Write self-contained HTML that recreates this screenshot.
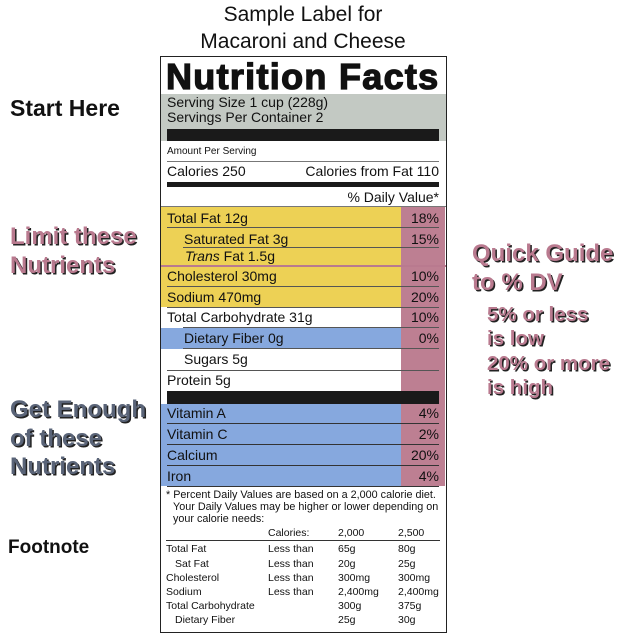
<!DOCTYPE html>
<html><head><style>
body{margin:0;width:619px;height:635px;background:#fff;position:relative;overflow:hidden;font-family:"Liberation Sans",sans-serif;color:#111}
div{position:absolute;box-sizing:border-box}
.t{white-space:nowrap;line-height:1}
.side{font-weight:bold;font-size:24px;text-shadow:1.5px 1.5px 0 #222}
.pk{color:#b97a8f}
.gb{color:#5a6478}
.r{font-size:14px}
.f{font-size:10.5px}
</style></head><body>
<div class="t" style="left:0;width:606px;text-align:center;top:4px;font-size:21px">Sample Label for</div>
<div class="t" style="left:0;width:606px;text-align:center;top:31px;font-size:21px">Macaroni and Cheese</div>

<div class="t" style="left:10px;top:97px;font-size:23px;font-weight:bold">Start Here</div>
<div class="t side pk" style="left:10px;top:225px">Limit these</div>
<div class="t side pk" style="left:10px;top:254px">Nutrients</div>
<div class="t side gb" style="left:10px;top:398px">Get Enough</div>
<div class="t side gb" style="left:10px;top:427px">of these</div>
<div class="t side gb" style="left:10px;top:455px">Nutrients</div>
<div class="t side pk" style="left:472px;top:242px">Quick Guide</div>
<div class="t side pk" style="left:472px;top:271px">to % DV</div>
<div class="t side pk" style="left:487px;top:305px;font-size:20.5px">5% or less</div>
<div class="t side pk" style="left:487px;top:329px;font-size:20.5px">is low</div>
<div class="t side pk" style="left:487px;top:354px;font-size:20.5px">20% or more</div>
<div class="t side pk" style="left:487px;top:378px;font-size:20.5px">is high</div>
<div class="t" style="left:8px;top:538px;font-size:19px;font-weight:bold">Footnote</div>

<!-- label -->
<div style="left:160px;top:56px;width:287px;height:577px;border:1.5px solid #222"></div>
<div class="t" style="left:166px;top:59px;font-size:36px;font-weight:bold;-webkit-text-stroke:1.3px #111;letter-spacing:1.3px">Nutrition Facts</div>
<div style="left:161px;top:94px;width:285px;height:47px;background:#c3c9c3"></div>
<div class="t r" style="left:167px;top:95px">Serving Size 1 cup (228g)</div>
<div class="t r" style="left:167px;top:110px">Servings Per Container 2</div>
<div style="left:167px;top:129px;width:272px;height:12px;background:#1a1a1a"></div>
<div class="t" style="left:167px;top:147px;font-size:10px">Amount Per Serving</div>
<div style="left:167px;top:161px;width:272px;height:1px;background:#777"></div>
<div class="t r" style="left:167px;top:164px">Calories 250</div>
<div class="t r" style="left:167px;top:164px;width:272px;text-align:right">Calories from Fat 110</div>
<div style="left:167px;top:182px;width:272px;height:5px;background:#1a1a1a"></div>
<div class="t r" style="left:167px;top:190px;width:272px;text-align:right">% Daily Value*</div>
<div style="left:161px;top:206px;width:285px;height:1px;background:#777"></div>

<div style="left:161px;top:207px;width:240px;height:100px;background:#edd155"></div>
<div style="left:161px;top:328px;width:240px;height:21px;background:#86a8de"></div>
<div style="left:161px;top:404px;width:240px;height:82px;background:#86a8de"></div>
<div style="left:401px;top:207px;width:44px;height:279px;background:#bd7f92"></div>
<div style="left:167px;top:391px;width:272px;height:13px;background:#1a1a1a"></div>

<div style="left:167px;top:227px;width:272px;height:1px;background:#555"></div>
<div style="left:183px;top:247px;width:256px;height:1px;background:#555"></div>
<div style="left:161px;top:265px;width:285px;height:2px;background:#b97a8f"></div>
<div style="left:167px;top:286px;width:272px;height:1px;background:#555"></div>
<div style="left:167px;top:307px;width:272px;height:1px;background:#555"></div>
<div style="left:183px;top:327px;width:256px;height:1px;background:#555"></div>
<div style="left:183px;top:348px;width:256px;height:1px;background:#555"></div>
<div style="left:167px;top:370px;width:272px;height:1px;background:#555"></div>
<div style="left:167px;top:423px;width:272px;height:1px;background:#333"></div>
<div style="left:167px;top:444px;width:272px;height:1px;background:#333"></div>
<div style="left:167px;top:465px;width:272px;height:1px;background:#333"></div>
<div style="left:167px;top:486px;width:272px;height:1px;background:#333"></div>

<div class="t r" style="left:167px;top:211px">Total Fat 12g</div><div class="t r" style="left:380px;width:59px;text-align:right;top:211px">18%</div>
<div class="t r" style="left:184px;top:232px">Saturated Fat 3g</div><div class="t r" style="left:380px;width:59px;text-align:right;top:232px">15%</div>
<div class="t r" style="left:185px;top:249px"><i>Trans</i> Fat 1.5g</div>
<div class="t r" style="left:167px;top:269px">Cholesterol 30mg</div><div class="t r" style="left:380px;width:59px;text-align:right;top:269px">10%</div>
<div class="t r" style="left:167px;top:290px">Sodium 470mg</div><div class="t r" style="left:380px;width:59px;text-align:right;top:290px">20%</div>
<div class="t r" style="left:167px;top:310px">Total Carbohydrate 31g</div><div class="t r" style="left:380px;width:59px;text-align:right;top:310px">10%</div>
<div class="t r" style="left:184px;top:331px">Dietary Fiber 0g</div><div class="t r" style="left:380px;width:59px;text-align:right;top:331px">0%</div>
<div class="t r" style="left:184px;top:352px">Sugars 5g</div>
<div class="t r" style="left:167px;top:373px">Protein 5g</div>
<div class="t r" style="left:167px;top:406px">Vitamin A</div><div class="t r" style="left:380px;width:59px;text-align:right;top:406px">4%</div>
<div class="t r" style="left:167px;top:427px">Vitamin C</div><div class="t r" style="left:380px;width:59px;text-align:right;top:427px">2%</div>
<div class="t r" style="left:167px;top:448px">Calcium</div><div class="t r" style="left:380px;width:59px;text-align:right;top:448px">20%</div>
<div class="t r" style="left:167px;top:469px">Iron</div><div class="t r" style="left:380px;width:59px;text-align:right;top:469px">4%</div>

<div class="t f" style="left:166px;top:490px;font-size:10.8px">* Percent Daily Values are based on a 2,000 calorie diet.</div>
<div class="t f" style="left:173px;top:502px;font-size:10.8px">Your Daily Values may be higher or lower depending on</div>
<div class="t f" style="left:173px;top:514px;font-size:10.8px">your calorie needs:</div>
<div class="t f" style="left:268px;top:528px">Calories:</div><div class="t f" style="left:338px;top:528px">2,000</div><div class="t f" style="left:398px;top:528px">2,500</div>
<div style="left:166px;top:540px;width:274px;height:1px;background:#333"></div>
<div class="t f" style="left:166px;top:544px">Total Fat</div><div class="t f" style="left:268px;top:544px">Less than</div><div class="t f" style="left:338px;top:544px">65g</div><div class="t f" style="left:398px;top:544px">80g</div>
<div class="t f" style="left:175px;top:559px">Sat Fat</div><div class="t f" style="left:268px;top:559px">Less than</div><div class="t f" style="left:338px;top:559px">20g</div><div class="t f" style="left:398px;top:559px">25g</div>
<div class="t f" style="left:166px;top:573px">Cholesterol</div><div class="t f" style="left:268px;top:573px">Less than</div><div class="t f" style="left:338px;top:573px">300mg</div><div class="t f" style="left:398px;top:573px">300mg</div>
<div class="t f" style="left:166px;top:587px">Sodium</div><div class="t f" style="left:268px;top:587px">Less than</div><div class="t f" style="left:338px;top:587px">2,400mg</div><div class="t f" style="left:398px;top:587px">2,400mg</div>
<div class="t f" style="left:166px;top:601px">Total Carbohydrate</div><div class="t f" style="left:338px;top:601px">300g</div><div class="t f" style="left:398px;top:601px">375g</div>
<div class="t f" style="left:175px;top:615px">Dietary Fiber</div><div class="t f" style="left:338px;top:615px">25g</div><div class="t f" style="left:398px;top:615px">30g</div>
</body></html>
